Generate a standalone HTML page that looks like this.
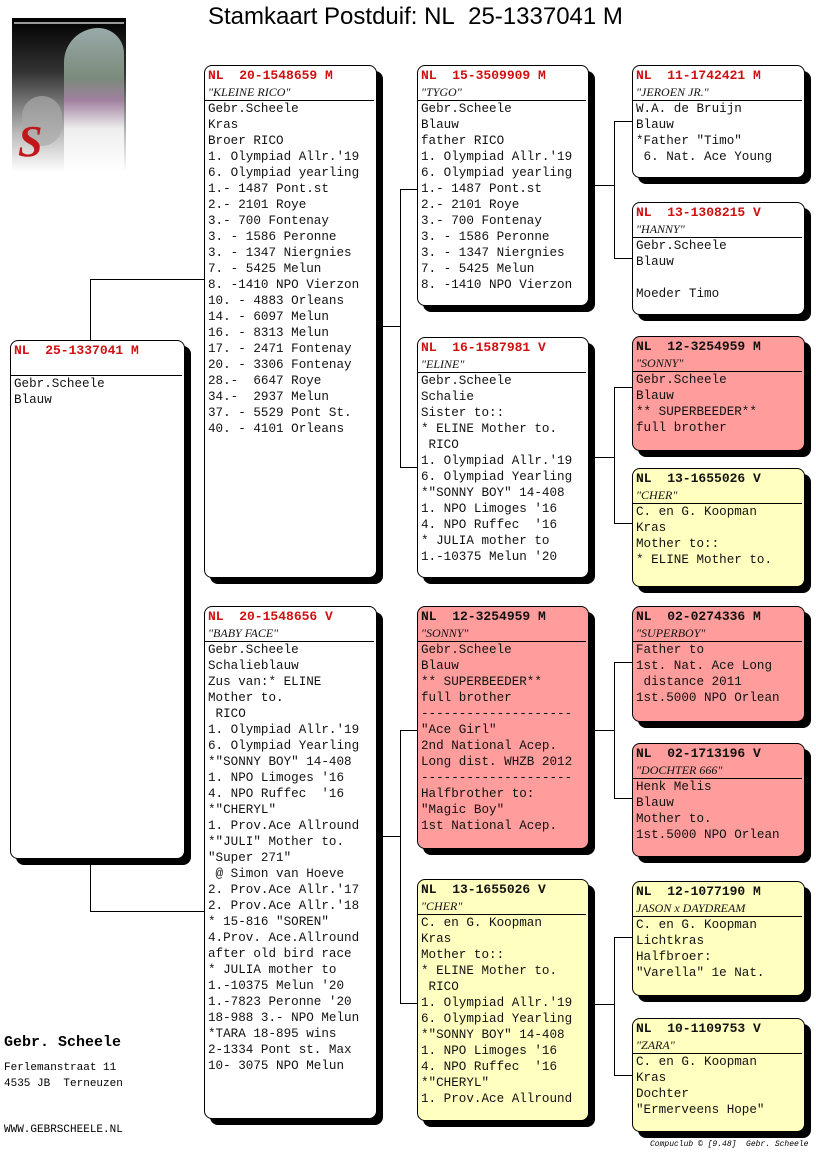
<!DOCTYPE html>
<html><head><meta charset="utf-8"><style>
body{margin:0;width:816px;height:1172px;background:#fff;position:relative;overflow:hidden;font-family:"Liberation Mono","Courier New",monospace;}
.b{position:absolute;border:1px solid #000;border-radius:8px;background:#fff;box-shadow:6px 6px 0 #000;font-size:12.6px;line-height:16px;color:#111;box-sizing:border-box;padding-top:2px;white-space:pre;overflow:hidden}
.b .h{padding:0 3px;border-bottom:1px solid #000;margin-right:2px}
.b .h1{font-weight:bold;color:#d01010;font-size:13px}
.b .h2{font-style:italic;font-family:"Liberation Serif",serif;font-size:12px}
.b .t{padding:0 3px}
.r{background:#ff9c9c}.r .h1{color:#111}
.y{background:#ffffc0}.y .h1{color:#111}
.ln{position:absolute;background:#000}
.v{width:1px}.hz{height:1px}
</style></head><body>
<div style="position:absolute;left:208px;top:3px;font-family:'Liberation Sans',Arial,sans-serif;font-size:24px;color:#000;white-space:nowrap">Stamkaart Postduif: NL&nbsp; 25-1337041 M</div>
<div style="position:absolute;left:12px;top:18px;width:114px;height:154px;background:linear-gradient(#000 0%,#333 35%,#bbb 75%,#fff 100%)">
<div style="position:absolute;left:2px;top:4px;width:110px;height:2px;background:#999"></div>
<div style="position:absolute;left:52px;top:10px;width:60px;height:144px;border-radius:40px 30px 0 0;background:linear-gradient(#9aa 0%,#7a8a7a 35%,#a080a0 50%,#eee 70%,#fff 100%)"></div>
<div style="position:absolute;left:10px;top:78px;width:40px;height:50px;border-radius:20px;background:#aaa;opacity:.7"></div>
<div style="position:absolute;left:6px;top:98px;font:italic bold 44px 'Liberation Serif',serif;color:#c01818">S</div>
</div>
<!-- connectors -->
<div class="ln v" style="left:90px;top:279px;height:61px"></div>
<div class="ln hz" style="left:90px;top:279px;width:114px"></div>
<div class="ln v" style="left:90px;top:858px;height:53px"></div>
<div class="ln hz" style="left:90px;top:911px;width:114px"></div>
<div class="ln v" style="left:400px;top:189px;height:278px"></div>
<div class="ln hz" style="left:376px;top:326px;width:24px"></div>
<div class="ln hz" style="left:400px;top:189px;width:17px"></div>
<div class="ln hz" style="left:400px;top:467px;width:17px"></div>
<div class="ln v" style="left:400px;top:730px;height:273px"></div>
<div class="ln hz" style="left:376px;top:836px;width:24px"></div>
<div class="ln hz" style="left:400px;top:730px;width:17px"></div>
<div class="ln hz" style="left:400px;top:1003px;width:17px"></div>
<div class="ln v" style="left:614px;top:121px;height:137px"></div>
<div class="ln hz" style="left:588px;top:185px;width:26px"></div>
<div class="ln hz" style="left:614px;top:121px;width:18px"></div>
<div class="ln hz" style="left:614px;top:258px;width:18px"></div>
<div class="ln v" style="left:614px;top:387px;height:136px"></div>
<div class="ln hz" style="left:588px;top:457px;width:26px"></div>
<div class="ln hz" style="left:614px;top:387px;width:18px"></div>
<div class="ln hz" style="left:614px;top:523px;width:18px"></div>
<div class="ln v" style="left:614px;top:662px;height:136px"></div>
<div class="ln hz" style="left:588px;top:730px;width:26px"></div>
<div class="ln hz" style="left:614px;top:662px;width:18px"></div>
<div class="ln hz" style="left:614px;top:798px;width:18px"></div>
<div class="ln v" style="left:614px;top:937px;height:138px"></div>
<div class="ln hz" style="left:588px;top:1004px;width:26px"></div>
<div class="ln hz" style="left:614px;top:937px;width:18px"></div>
<div class="ln hz" style="left:614px;top:1075px;width:18px"></div>

<div class="b" style="left:10px;top:340px;width:175px;height:519px"><div class="h"><div class="h1">NL  25-1337041 M</div><div class="h2"> </div></div><div class="t">Gebr.Scheele
Blauw</div></div>

<div class="b" style="left:204px;top:65px;width:173px;height:513px"><div class="h"><div class="h1">NL  20-1548659 M</div><div class="h2">"KLEINE RICO"</div></div><div class="t">Gebr.Scheele
Kras
Broer RICO
1. Olympiad Allr.'19
6. Olympiad yearling
1.- 1487 Pont.st
2.- 2101 Roye
3.- 700 Fontenay
3. - 1586 Peronne
3. - 1347 Niergnies
7. - 5425 Melun
8. -1410 NPO Vierzon
10. - 4883 Orleans
14. - 6097 Melun
16. - 8313 Melun
17. - 2471 Fontenay
20. - 3306 Fontenay
28.-  6647 Roye
34.-  2937 Melun
37. - 5529 Pont St.
40. - 4101 Orleans</div></div>

<div class="b" style="left:204px;top:606px;width:173px;height:513px"><div class="h"><div class="h1">NL  20-1548656 V</div><div class="h2">"BABY FACE"</div></div><div class="t">Gebr.Scheele
Schalieblauw
Zus van:* ELINE
Mother to.
 RICO
1. Olympiad Allr.'19
6. Olympiad Yearling
*"SONNY BOY" 14-408
1. NPO Limoges '16
4. NPO Ruffec  '16
*"CHERYL"
1. Prov.Ace Allround
*"JULI" Mother to.
"Super 271"
 @ Simon van Hoeve
2. Prov.Ace Allr.'17
2. Prov.Ace Allr.'18
* 15-816 "SOREN"
4.Prov. Ace.Allround
after old bird race
* JULIA mother to
1.-10375 Melun '20
1.-7823 Peronne '20
18-988 3.- NPO Melun
*TARA 18-895 wins
2-1334 Pont st. Max
10- 3075 NPO Melun</div></div>

<div class="b" style="left:417px;top:65px;width:172px;height:241px"><div class="h"><div class="h1">NL  15-3509909 M</div><div class="h2">"TYGO"</div></div><div class="t">Gebr.Scheele
Blauw
father RICO
1. Olympiad Allr.'19
6. Olympiad yearling
1.- 1487 Pont.st
2.- 2101 Roye
3.- 700 Fontenay
3. - 1586 Peronne
3. - 1347 Niergnies
7. - 5425 Melun
8. -1410 NPO Vierzon</div></div>

<div class="b" style="left:417px;top:337px;width:172px;height:241px"><div class="h"><div class="h1">NL  16-1587981 V</div><div class="h2">"ELINE"</div></div><div class="t">Gebr.Scheele
Schalie
Sister to::
* ELINE Mother to.
 RICO
1. Olympiad Allr.'19
6. Olympiad Yearling
*"SONNY BOY" 14-408
1. NPO Limoges '16
4. NPO Ruffec  '16
* JULIA mother to
1.-10375 Melun '20</div></div>

<div class="b r" style="left:417px;top:606px;width:172px;height:243px"><div class="h"><div class="h1">NL  12-3254959 M</div><div class="h2">"SONNY"</div></div><div class="t">Gebr.Scheele
Blauw
** SUPERBEEDER**
full brother
--------------------
"Ace Girl"
2nd National Acep.
Long dist. WHZB 2012
--------------------
Halfbrother to:
"Magic Boy"
1st National Acep.</div></div>

<div class="b y" style="left:417px;top:879px;width:172px;height:242px"><div class="h"><div class="h1">NL  13-1655026 V</div><div class="h2">"CHER"</div></div><div class="t">C. en G. Koopman
Kras
Mother to::
* ELINE Mother to.
 RICO
1. Olympiad Allr.'19
6. Olympiad Yearling
*"SONNY BOY" 14-408
1. NPO Limoges '16
4. NPO Ruffec  '16
*"CHERYL"
1. Prov.Ace Allround</div></div>

<div class="b" style="left:632px;top:65px;width:173px;height:113px"><div class="h"><div class="h1">NL  11-1742421 M</div><div class="h2">"JEROEN JR."</div></div><div class="t">W.A. de Bruijn
Blauw
*Father "Timo"
 6. Nat. Ace Young</div></div>

<div class="b" style="left:632px;top:202px;width:173px;height:113px"><div class="h"><div class="h1">NL  13-1308215 V</div><div class="h2">"HANNY"</div></div><div class="t">Gebr.Scheele
Blauw

Moeder Timo</div></div>

<div class="b r" style="left:632px;top:336px;width:173px;height:115px"><div class="h"><div class="h1">NL  12-3254959 M</div><div class="h2">"SONNY"</div></div><div class="t">Gebr.Scheele
Blauw
** SUPERBEEDER**
full brother</div></div>

<div class="b y" style="left:632px;top:468px;width:173px;height:119px"><div class="h"><div class="h1">NL  13-1655026 V</div><div class="h2">"CHER"</div></div><div class="t">C. en G. Koopman
Kras
Mother to::
* ELINE Mother to.</div></div>

<div class="b r" style="left:632px;top:606px;width:173px;height:116px"><div class="h"><div class="h1">NL  02-0274336 M</div><div class="h2">"SUPERBOY"</div></div><div class="t">Father to
1st. Nat. Ace Long
 distance 2011
1st.5000 NPO Orlean</div></div>

<div class="b r" style="left:632px;top:743px;width:173px;height:114px"><div class="h"><div class="h1">NL  02-1713196 V</div><div class="h2">"DOCHTER 666"</div></div><div class="t">Henk Melis
Blauw
Mother to.
1st.5000 NPO Orlean</div></div>

<div class="b y" style="left:632px;top:881px;width:173px;height:115px"><div class="h"><div class="h1">NL  12-1077190 M</div><div class="h2">JASON x DAYDREAM</div></div><div class="t">C. en G. Koopman
Lichtkras
Halfbroer:
"Varella" 1e Nat.</div></div>

<div class="b y" style="left:632px;top:1018px;width:173px;height:114px"><div class="h"><div class="h1">NL  10-1109753 V</div><div class="h2">"ZARA"</div></div><div class="t">C. en G. Koopman
Kras
Dochter
"Ermerveens Hope"</div></div>

<div style="position:absolute;left:4px;top:1034px;font-size:15px;font-weight:bold">Gebr. Scheele</div>
<div style="position:absolute;left:4px;top:1060px;font-size:11px;line-height:16px;white-space:pre">Ferlemanstraat 11
4535 JB  Terneuzen</div>
<div style="position:absolute;left:4px;top:1124px;font-size:11px">WWW.GEBRSCHEELE.NL</div>
<div style="position:absolute;left:650px;top:1140px;font-size:8px;font-style:italic;white-space:pre">Compuclub © [9.48]  Gebr. Scheele</div>
</body></html>
